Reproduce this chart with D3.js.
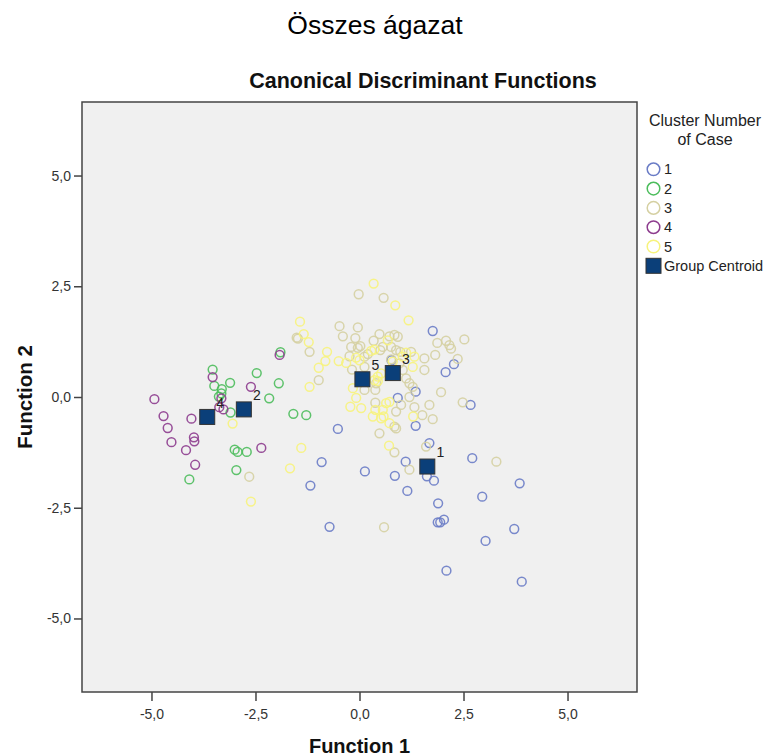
<!DOCTYPE html>
<html>
<head>
<meta charset="utf-8">
<script src="https://cdn.jsdelivr.net/npm/d3@7"></script>
<style>
  html, body { margin: 0; padding: 0; background: #fff; }
  svg { display: block; font-family: "Liberation Sans", Arial, sans-serif; }
</style>
</head>
<body>
<svg id="chart" width="769" height="756"></svg>
<script>
// ---------- data ----------
const clusterNames = ["1", "2", "3", "4", "5"];
const clusterColors = ["#6a7cc6", "#4cbd5c", "#d5d0a2", "#8d3c8e", "#f7f37c"];

const c1x = [1.76, 2.27, 2.07, 1.35, 0.92, 2.67, 1.35, 1.68, 1.11, 2.71, -0.91, -0.52, 0.13, 0.85, 1.62, 1.79, 1.15, 3.85, 2.95, 1.89, 1.88, 1.94, 2.03, 3.03, 3.72, 2.09, 3.90, -0.72, -1.18, 0.77];
const c1y = [1.49, 0.74, 0.56, 0.12, -0.02, -0.18, -0.65, -1.04, -1.46, -1.38, -1.47, -0.72, -1.68, -1.78, -1.79, -1.89, -2.12, -1.95, -2.25, -2.40, -2.83, -2.83, -2.77, -3.25, -2.98, -3.92, -4.17, -2.93, -2.00, 0.83];

const c2x = [-3.53, -3.49, -3.31, -3.32, -3.11, -3.38, -3.10, -2.47, -1.94, -2.17, -1.59, -1.28, -3.00, -2.93, -2.71, -2.96, -4.09, -1.90];
const c2y = [0.62, 0.25, 0.18, 0.08, 0.32, 0.01, -0.35, 0.54, 0.31, -0.03, -0.38, -0.41, -1.19, -1.24, -1.24, -1.65, -1.86, 1.01];

const c3x = [-0.02, 0.58, -1.48, -1.20, -0.98, -0.48, -0.40, -0.04, -0.10, -0.20, -0.04, 0.02, -0.24, 0.34, 0.48, 0.72, 0.84, 0.92, 0.50, 0.56, 0.76, 0.88, 0.98, 1.24, 1.56, 1.82, 1.87, 2.08, 2.16, 2.20, 2.52, 2.36, 1.56, 1.04, 1.12, 1.20, 1.28, 1.96, 1.68, 2.48, 1.76, 1.51, 1.32, 1.00, 0.88, 0.38, 0.48, 0.84, 0.88, 0.84, 1.60, 1.20, 3.29, 0.59, 0.12, 0.38, 0.40, 0.76, 0.96, 0.12, 0.20, -0.18, 0.12, 1.20, -2.65, -1.51];
const c3y = [2.32, 2.24, 1.32, 1.02, 0.38, 1.60, 1.37, 1.57, 1.33, 1.13, 1.11, 1.15, 0.92, 1.27, 1.42, 1.37, 1.40, 1.36, 1.06, 1.13, 1.13, 1.06, 1.02, 1.02, 0.87, 0.95, 1.22, 1.27, 1.17, 1.09, 1.30, 0.86, 0.61, 0.61, 0.42, 0.31, 0.23, 0.11, -0.18, -0.12, -0.50, -0.41, -0.23, -0.18, -0.33, -0.13, -0.82, -0.67, -0.71, -1.25, -1.12, -1.64, -1.46, -2.94, 0.16, 0.16, 0.31, 0.85, 0.76, 0.91, 0.97, 0.62, 0.68, 0.00, -1.80, 1.34];

const c4x = [-4.93, -4.71, -4.61, -4.52, -4.17, -3.98, -3.97, -3.95, -4.04, -3.53, -3.37, -3.27, -3.32, -2.61, -2.36, -1.92];
const c4y = [-0.05, -0.43, -0.70, -1.02, -1.20, -0.91, -1.00, -1.53, -0.49, 0.45, -0.23, -0.28, -0.03, 0.23, -1.15, 0.95];

const c5x = [-3.05, -1.67, -2.61, -1.43, -1.40, 0.34, 0.86, 1.18, -1.34, -1.22, -0.78, -0.82, -0.98, -1.20, -0.50, -0.32, -0.08, 0.00, 0.28, 0.36, 0.68, 1.12, 1.32, 1.28, 0.72, 0.64, 0.56, 0.58, 0.52, 0.72, 0.32, 0.38, 0.71, -0.22, 0.04, -0.08, -0.16, 0.36, 0.44, 0.52, 0.80, 1.04, 0.44, 1.29];
const c5y = [-0.60, -1.61, -2.36, 1.70, -1.15, 2.56, 2.07, 1.73, 1.42, 1.24, 1.02, 0.81, 0.66, 0.23, 0.81, 0.77, 0.89, 0.83, 1.04, 1.07, 1.28, 1.00, 0.91, 0.68, -0.11, -0.14, -0.29, -0.44, -0.48, -0.59, -0.44, -0.29, -1.10, -0.22, -0.25, -0.02, 0.20, 0.38, 0.46, 0.53, 0.80, 0.91, 0.36, -0.44];

const centroidLabels = ["1", "2", "3", "4", "5"];
const centroidX = [1.63, -2.78, 0.80, -3.66, 0.07];
const centroidY = [-1.57, -0.28, 0.54, -0.45, 0.40];

const tickValues = [-5, -2.5, 0, 2.5, 5];

const mainTitle = "Összes ágazat";
const chartTitle = "Canonical Discriminant Functions";
const xTitle = "Function 1";
const yTitle = "Function 2";
const legendTitle = ["Cluster Number", "of Case"];
const centroidLegend = "Group Centroid";

// ---------- build ----------
const seriesX = [c1x, c2x, c3x, c4x, c5x];
const seriesY = [c1y, c2y, c3y, c4y, c5y];
const points = [];
seriesX.forEach((xs, k) => xs.forEach((v, i) => points.push({ x: v, y: seriesY[k][i], k })));

const svg = d3.select("#chart");
const L = 82, R = 637, T = 102, B = 692;

const x = d3.scaleLinear().domain([-6.67, 6.67]).range([L, R]);
const y = d3.scaleLinear().domain([-6.66, 6.66]).range([B, T]);
const fmt = v => d3.format(".1f")(v).replace(".", ",").replace("\u2212", "-");

// titles
svg.append("text").attr("x", 375).attr("y", 34).attr("text-anchor", "middle")
  .attr("font-size", 26.5).attr("fill", "#000").text(mainTitle);
svg.append("text").attr("x", 423).attr("y", 88).attr("text-anchor", "middle")
  .attr("font-size", 21.5).attr("font-weight", "bold").attr("fill", "#111").text(chartTitle);

// plot background
svg.append("rect").attr("x", L).attr("y", T).attr("width", R - L).attr("height", B - T)
  .attr("fill", "#f0f0f0").attr("stroke", "#444").attr("stroke-width", 1.5);

// axes
const gx = svg.append("g").attr("transform", `translate(0,${B})`)
  .call(d3.axisBottom(x).tickValues(tickValues).tickFormat(fmt).tickSize(9).tickPadding(8));
const gy = svg.append("g").attr("transform", `translate(${L},0)`)
  .call(d3.axisLeft(y).tickValues(tickValues).tickFormat(fmt).tickSize(8).tickPadding(3));
[gx, gy].forEach(g => {
  g.select(".domain").remove();
  g.selectAll(".tick line").attr("stroke", "#444").attr("stroke-width", 1.5);
  g.selectAll(".tick text").attr("font-size", 14).attr("fill", "#333")
    .attr("font-family", "'Liberation Sans', Arial, sans-serif");
});

// axis titles
svg.append("text").attr("x", (L + R) / 2).attr("y", 753).attr("text-anchor", "middle")
  .attr("font-size", 20).attr("font-weight", "bold").attr("fill", "#111").text(xTitle);
svg.append("text").attr("transform", `translate(32,${(T + B) / 2}) rotate(-90)`)
  .attr("text-anchor", "middle").attr("font-size", 20.5).attr("font-weight", "bold")
  .attr("fill", "#111").text(yTitle);

// points
svg.append("g").selectAll("circle").data(points).join("circle")
  .attr("cx", d => x(d.x)).attr("cy", d => y(d.y)).attr("r", 4.4)
  .attr("fill", "none").attr("stroke", d => clusterColors[d.k])
  .attr("stroke-width", 1.5).attr("stroke-opacity", 0.9);

// centroids
const cents = centroidX.map((v, i) => ({ x: v, y: centroidY[i], label: centroidLabels[i] }));
const cg = svg.append("g");
cg.selectAll("rect").data(cents).join("rect")
  .attr("x", d => x(d.x) - 7.5).attr("y", d => y(d.y) - 7.5)
  .attr("width", 15).attr("height", 15)
  .attr("fill", "#0b3f79").attr("stroke", "#333").attr("stroke-width", 1);
cg.selectAll("text").data(cents).join("text")
  .attr("x", d => x(d.x) + 13).attr("y", d => y(d.y) - 14).attr("dy", "0.35em")
  .attr("text-anchor", "middle").attr("font-size", 14).attr("fill", "#222")
  .text(d => d.label);

// legend
const lg = svg.append("g");
legendTitle.forEach((t, i) => {
  lg.append("text").attr("x", 705).attr("y", 126 + i * 18.5).attr("text-anchor", "middle")
    .attr("font-size", 16).attr("fill", "#222").text(t);
});
const ly0 = 169.3, lstep = 19.3;
clusterNames.forEach((n, i) => {
  lg.append("circle").attr("cx", 653.5).attr("cy", ly0 + i * lstep).attr("r", 6.3)
    .attr("fill", "none").attr("stroke", clusterColors[i]).attr("stroke-width", 1.5);
  lg.append("text").attr("x", 664).attr("y", ly0 + i * lstep).attr("dy", "0.35em")
    .attr("font-size", 14.5).attr("fill", "#222").text(n);
});
const sqY = ly0 + 5 * lstep;
lg.append("rect").attr("x", 646).attr("y", sqY - 7.5).attr("width", 15).attr("height", 15)
  .attr("fill", "#0b3f79").attr("stroke", "#333").attr("stroke-width", 1);
lg.append("text").attr("x", 664).attr("y", sqY).attr("dy", "0.35em")
  .attr("font-size", 14.5).attr("fill", "#222").text(centroidLegend);
</script>
</body>
</html>
